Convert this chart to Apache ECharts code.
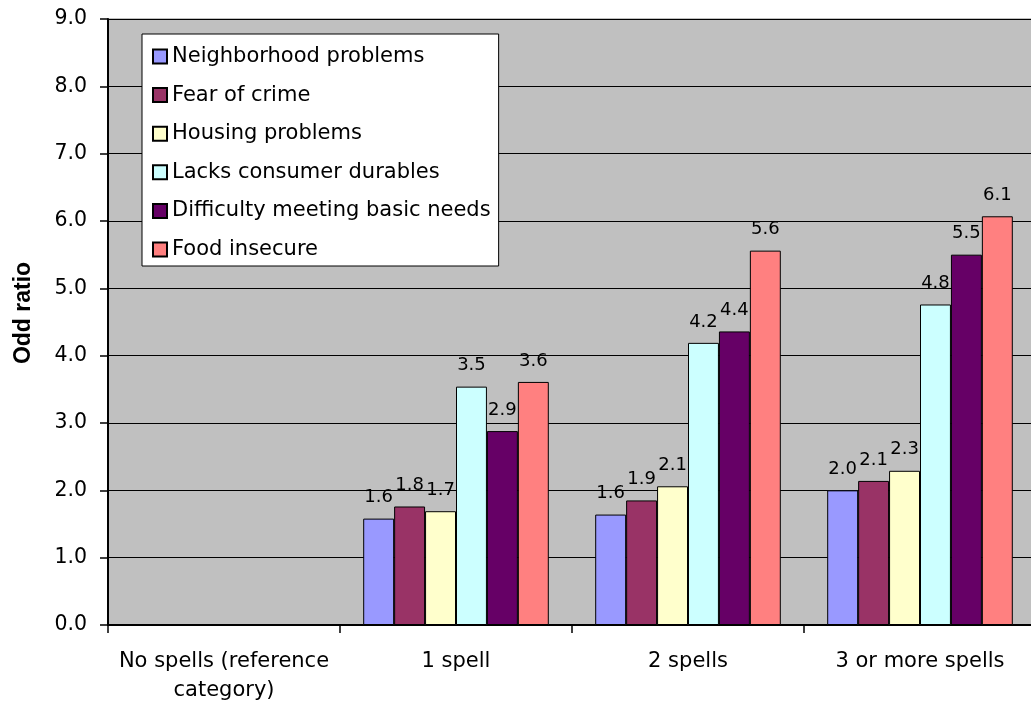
<!DOCTYPE html>
<html>
<head>
<meta charset="utf-8">
<title>Odd ratio by number of spells</title>
<script src="https://cdn.jsdelivr.net/npm/echarts@6/dist/echarts.min.js"></script>
<style>
  html, body { margin: 0; padding: 0; background: #ffffff; }
  #chart { width: 1031px; height: 711px; }
</style>
</head>
<body>
<div id="chart"></div>
<script>
// Categories along the x axis
const categories = ['No spells (reference\ncategory)', '1 spell', '2 spells', '3 or more spells'];

// Series names, in legend order
const seriesNames = [
  'Neighborhood problems',
  'Fear of crime',
  'Housing problems',
  'Lacks consumer durables',
  'Difficulty meeting basic needs',
  'Food insecure'
];

// Odd ratios per category (reference category has no bar)
const neighborhoodProblems = [null, 1.58, 1.64, 2.0];
const fearOfCrime          = [null, 1.76, 1.85, 2.14];
const housingProblems      = [null, 1.69, 2.06, 2.29];
const lacksDurables        = [null, 3.54, 4.19, 4.76];
const difficultyBasicNeeds = [null, 2.88, 4.36, 5.5];
const foodInsecure         = [null, 3.61, 5.56, 6.07];

// Y axis tick values
const yTicks = [0, 1, 2, 3, 4, 5, 6, 7, 8, 9];

const seriesValues = [
  neighborhoodProblems, fearOfCrime, housingProblems,
  lacksDurables, difficultyBasicNeeds, foodInsecure
];
const seriesColors = ['#9999FF', '#993366', '#FFFFCC', '#CCFFFF', '#660066', '#FF8080'];

const chart = echarts.init(document.getElementById('chart'), null, { renderer: 'canvas' });

const font = 'DejaVu Sans';

chart.setOption({
  backgroundColor: '#ffffff',
  animation: false,
  grid: {
    left: 108,
    top: 19,
    right: -5,
    bottom: 86,
    outerBoundsMode: 'none',
    containLabel: false,
    show: true,
    backgroundColor: '#C0C0C0',
    borderColor: '#808080',
    borderWidth: 1
  },
  legend: {
    orient: 'vertical',
    left: 142,
    top: 34,
    padding: [12, 8, 6, 10],
    backgroundColor: '#ffffff',
    borderColor: '#000000',
    borderWidth: 1,
    itemWidth: 14,
    itemHeight: 14,
    itemGap: 17.6,
    icon: 'rect',
    data: seriesNames,
    textStyle: {
      fontFamily: font,
      fontSize: 21,
      lineHeight: 20,
      color: '#000000'
    }
  },
  xAxis: {
    type: 'category',
    data: categories,
    axisLine: { lineStyle: { color: '#000000', width: 2 } },
    axisTick: { show: true, length: 8, interval: 0, lineStyle: { color: '#000000', width: 1.5 } },
    axisLabel: {
      interval: 0,
      margin: 22,
      fontFamily: font,
      fontSize: 21,
      lineHeight: 29,
      color: '#000000'
    },
    splitLine: { show: false }
  },
  yAxis: {
    type: 'value',
    min: yTicks[0],
    max: yTicks[yTicks.length - 1],
    interval: 1,
    name: 'Odd ratio',
    nameLocation: 'middle',
    nameRotate: 90,
    nameGap: 73,
    nameTextStyle: {
      fontFamily: 'Liberation Sans',
      fontWeight: 'bold',
      fontSize: 23,
      color: '#000000',
      padding: [0, 0, 0, 18]
    },
    axisLine: { show: true, lineStyle: { color: '#000000', width: 2 } },
    axisTick: { show: true, length: 8, lineStyle: { color: '#000000', width: 1.5 } },
    axisLabel: {
      margin: 21,
      fontFamily: font,
      fontSize: 20.5,
      color: '#000000',
      formatter: v => v.toFixed(1)
    },
    splitLine: { show: true, lineStyle: { color: '#000000', width: 1 } }
  },
  series: seriesNames.map((name, i) => ({
    name: name,
    type: 'bar',
    data: seriesValues[i],
    barGap: '0%',
    barCategoryGap: '20%',
    itemStyle: {
      color: seriesColors[i],
      borderColor: '#000000',
      borderWidth: 1
    },
    label: {
      show: true,
      position: 'top',
      distance: 12,
      fontFamily: font,
      fontSize: 18,
      color: '#000000',
      formatter: p => (p.value == null ? '' : p.value.toFixed(1))
    }
  }))
});
</script>
</body>
</html>
